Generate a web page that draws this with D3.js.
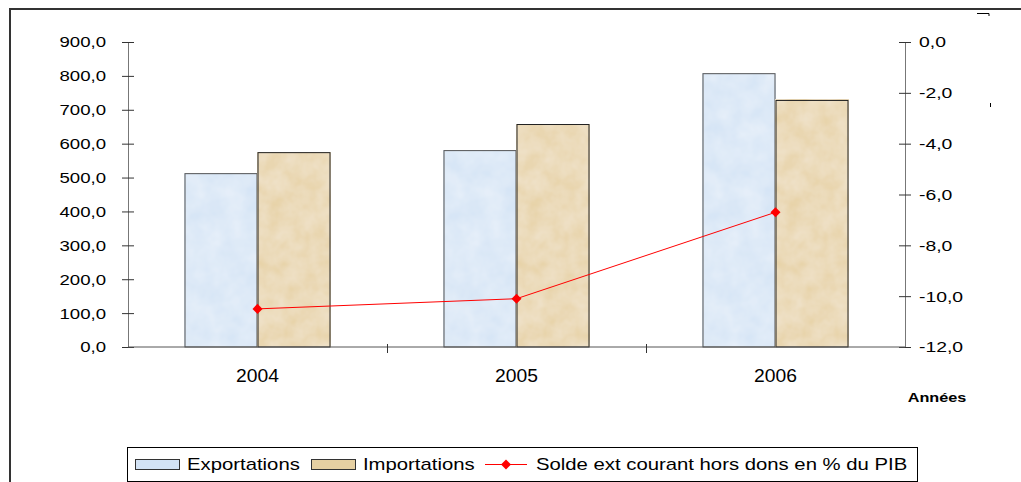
<!DOCTYPE html>
<html>
<head>
<meta charset="utf-8">
<script src="https://cdn.jsdelivr.net/npm/d3@7"></script>
<style>
  body { margin: 0; background: #fff; }
  svg text { font-family: "Liberation Sans", Arial, sans-serif; fill: #000; }
</style>
</head>
<body>
<div id="graphic"></div>
<script>
// data
const annees = ["2004", "2005", "2006"];
const exportations = [513, 581, 808];
const importations = [575, 658, 729];
const solde = [-10.5, -10.1, -6.7];
const leftTicks = [0, 100, 200, 300, 400, 500, 600, 700, 800, 900];
const rightTicks = [0, -2, -4, -6, -8, -10, -12];

const W = 1021, H = 482;
const margin = { top: 42, left: 128, right: 116, bottom: 135 };
const width = W - margin.left - margin.right,
      height = H - margin.top - margin.bottom;

const fmt = v => d3.format(".1f")(v).replace(".", ",").replace("−", "-");

// the text in the picture is wider than the font, stretch it around its anchor
function stretch(sel, k) {
  sel.each(function () {
    const t = d3.select(this);
    const x0 = +t.attr("x") || 0;
    t.attr("transform", `translate(${x0 * (1 - k)},0) scale(${k},1)`);
  });
}

const svg = d3.select("#graphic").append("svg")
  .attr("width", W)
  .attr("height", H);

// textures for the bars
const defs = svg.append("defs");
function texture(id, base, freq, op) {
  const f = defs.append("filter").attr("id", id + "f")
    .attr("x", 0).attr("y", 0).attr("width", 1).attr("height", 1);
  f.append("feTurbulence").attr("type", "fractalNoise")
    .attr("baseFrequency", freq).attr("numOctaves", 3).attr("seed", 4).attr("result", "n");
  f.append("feColorMatrix").attr("in", "n").attr("type", "matrix")
    .attr("values", `0 0 0 0 1  0 0 0 0 1  0 0 0 0 1  ${op} 0 0 0 0`).attr("result", "w");
  f.append("feFlood").attr("flood-color", base).attr("result", "b");
  f.append("feComposite").attr("in", "w").attr("in2", "b").attr("operator", "over");
}
texture("exp", "#d3e3f5", 0.05, 0.45);
texture("imp", "#e6d0a2", 0.06, 0.4);

// outer frame
svg.append("path")
  .attr("d", `M10,${H} V9 H${W}`)
  .attr("fill", "none").attr("stroke", "#333").attr("stroke-width", 2);
svg.append("path").attr("d", "M977,13.5 H989 V16").attr("stroke", "#000").attr("fill", "none");
svg.append("line").attr("x1", 990.5).attr("x2", 990.5).attr("y1", 103).attr("y2", 107).attr("stroke", "#000");

const g = svg.append("g")
  .attr("transform", `translate(${margin.left},${margin.top})`);

const x = d3.scaleBand().domain(annees).range([0, width]);
const xi = d3.scaleBand().domain(["exp", "imp"]).range([0, 146]);
const y = d3.scaleLinear().domain([0, 900]).range([height, 0]);
const y2 = d3.scaleLinear().domain([-12, 0]).range([height, 0]);

// bars
const grp = g.selectAll(".an").data(annees).enter().append("g")
  .attr("transform", d => `translate(${x(d) + x.bandwidth() / 2 - 73},0)`);
function bars(key, vals, fill, stroke) {
  grp.append("rect")
    .attr("x", xi(key)).attr("width", xi.bandwidth())
    .attr("y", (d, i) => y(vals[i]))
    .attr("height", (d, i) => height - y(vals[i]))
    .attr("fill", fill).attr("filter", `url(#${key}f)`);
  grp.append("rect")
    .attr("x", xi(key) + 0.5).attr("width", xi.bandwidth() - 1)
    .attr("y", (d, i) => y(vals[i]) + 0.5)
    .attr("height", (d, i) => height - y(vals[i]) - 0.5)
    .attr("fill", "none").attr("stroke", stroke).attr("stroke-width", 1);
}
bars("exp", exportations, "#d3e3f5", "#555");
bars("imp", importations, "#e6d0a2", "#222");

// left axis
const yAxis = d3.axisLeft(y).tickValues(leftTicks).tickFormat(fmt).tickSizeInner(6).tickSizeOuter(0).tickPadding(16);
const gy = g.append("g").call(yAxis);
gy.select(".domain").attr("stroke", "#777");
gy.selectAll(".tick line").attr("x2", 6).attr("x1", -6).attr("stroke", "#333");
gy.selectAll("text").style("font-size", "15.5px").call(stretch, 1.2);

// right axis
const y2Axis = d3.axisRight(y2).tickValues(rightTicks).tickFormat(fmt).tickSizeInner(6).tickSizeOuter(0).tickPadding(8);
const gy2 = g.append("g").attr("transform", `translate(${width},0)`).call(y2Axis);
gy2.select(".domain").attr("stroke", "#777");
gy2.selectAll(".tick line").attr("x1", -6).attr("x2", 6).attr("stroke", "#333");
gy2.selectAll("text").style("font-size", "15.5px").call(stretch, 1.25);

// x axis
const gx = g.append("g").attr("transform", `translate(0,${height})`);
gx.append("line").attr("x1", 0).attr("x2", width).attr("stroke", "#555");
gx.selectAll(".tk").data(annees.slice(1)).enter().append("line")
  .attr("x1", d => x(d) + 0.5).attr("x2", d => x(d) + 0.5)
  .attr("y1", -3).attr("y2", 6).attr("stroke", "#333");
gx.selectAll(".lb").data(annees).enter().append("text")
  .attr("x", d => x(d) + x.bandwidth() / 2)
  .attr("y", 35).attr("text-anchor", "middle")
  .style("font-size", "18px").text(d => d)
  .call(stretch, 1.07);

svg.append("text").attr("x", 937).attr("y", 402).attr("text-anchor", "middle")
  .style("font-size", "12.5px").style("font-weight", "bold").text("Années")
  .call(stretch, 1.3);

// line
const cx = d => x(d) + x.bandwidth() / 2;
g.append("path")
  .datum(annees)
  .attr("fill", "none").attr("stroke", "#f00").attr("stroke-width", 1)
  .attr("d", d3.line().x(d => cx(d)).y((d, i) => y2(solde[i])));
g.selectAll(".pt").data(annees).enter().append("path")
  .attr("d", d3.symbol(d3.symbolDiamond2, 64)())
  .attr("transform", (d, i) => `translate(${cx(d)},${y2(solde[i])})`)
  .attr("fill", "#f00");

// legend
const lg = svg.append("g").attr("transform", "translate(127,447)");
lg.append("rect").attr("x", 0.5).attr("y", 0.5).attr("width", 790).attr("height", 34)
  .attr("fill", "#fff").attr("stroke", "#000");
lg.append("rect").attr("x", 8.5).attr("y", 12.5).attr("width", 44).attr("height", 10)
  .attr("fill", "#d3e3f5").attr("stroke", "#333");
lg.append("rect").attr("x", 184.5).attr("y", 12.5).attr("width", 44).attr("height", 10)
  .attr("fill", "#e6d0a2").attr("stroke", "#333");
lg.append("line").attr("x1", 358).attr("x2", 400).attr("y1", 17.5).attr("y2", 17.5).attr("stroke", "#f00");
lg.append("path").attr("d", d3.symbol(d3.symbolDiamond2, 64)())
  .attr("transform", "translate(379,17.5)").attr("fill", "#f00");
const lt = lg.selectAll(".lt")
  .data([[60, "Exportations"], [236, "Importations"], [409, "Solde ext courant hors dons en % du PIB"]])
  .enter().append("text")
  .attr("x", d => d[0]).attr("y", 23).style("font-size", "16px").text(d => d[1]);
lt.call(stretch, 1.27);
</script>
</body>
</html>
